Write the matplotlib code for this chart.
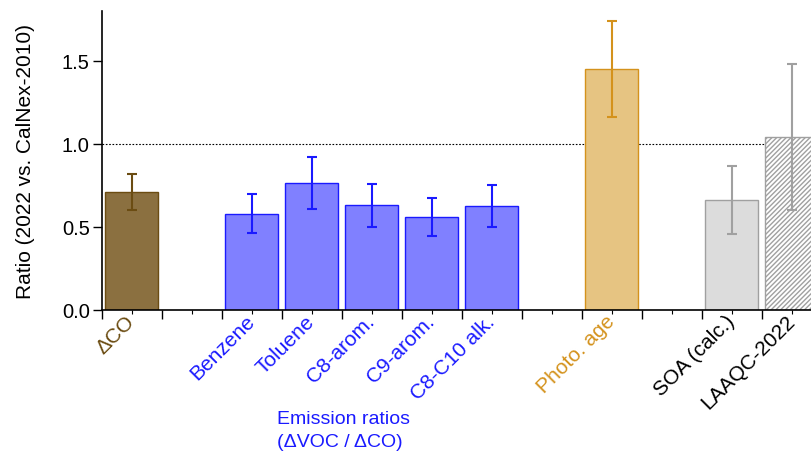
import numpy as np
import matplotlib.pyplot as plt

plt.rcParams['font.family'] = ['Liberation Sans', 'DejaVu Sans']

# categories (empty strings are gaps between groups)
labels = ['ΔCO', '', 'Benzene', 'Toluene', 'C8-arom.', 'C9-arom.', 'C8-C10 alk.',
          '', 'Photo. age', '', 'SOA (calc.)', 'LAAQC-2022']
ratios = [0.71, None, 0.58, 0.765, 0.63, 0.56, 0.625, None, 1.45, None, 0.66, 1.04]
errors = [0.11, None, 0.117, 0.155, 0.128, 0.114, 0.125, None, 0.29, None, 0.205, 0.44]

brown = '#6b4c12'
blue = '#1a1aff'
orange = '#d4921c'
gray = '#a0a0a0'
fills = ['#8b7040', None, '#8080ff', '#8080ff', '#8080ff', '#8080ff', '#8080ff',
         None, '#e6c482', None, '#dcdcdc', 'white']
edges = [brown, None, blue, blue, blue, blue, blue, None, orange, None, gray, gray]
label_colors = [brown, 'k', blue, blue, blue, blue, blue, 'k', orange, 'k', 'k', 'k']

plt.rcParams['hatch.color'] = '#858585'
plt.rcParams['hatch.linewidth'] = 1.0

fig = plt.figure(figsize=(8.12, 4.56), dpi=100)
ax = fig.add_axes([0.1252, 0.318, 0.8867, 0.6557])

ax.axhline(1.0, color='k', linestyle=(0, (1.5, 1.5)), linewidth=0.8, zorder=0)

for i, (v, e) in enumerate(zip(ratios, errors)):
    if v is None:
        continue
    hatch = '///////' if labels[i] == 'LAAQC-2022' else None
    ax.bar(i, v, width=0.88, color=fills[i], edgecolor=edges[i], linewidth=1.0,
           hatch=hatch, zorder=2)
    ax.errorbar(i, v, yerr=e, color=edges[i], capsize=3.3, elinewidth=1.5,
                capthick=1.5, zorder=3)

ax.set_xlim(-0.5, len(labels) - 0.5)
ax.set_ylim(0, 1.8)
ax.set_yticks([0.0, 0.5, 1.0, 1.5])
ax.set_yticklabels(['0.0', '0.5', '1.0', '1.5'])
ax.set_xticks(np.arange(-0.5, len(labels)))
ax.set_xticklabels([])
ax.set_xticks(np.arange(len(labels)), labels, minor=True)
ax.tick_params(axis='x', which='major', length=6.5, width=1, direction='out')
ax.tick_params(axis='x', which='minor', length=3.2, width=0.8, pad=2.5, labelsize=15)
ax.tick_params(axis='y', length=6.5, width=1, labelsize=14.5, pad=2)
for t, c in zip(ax.get_xticklabels(minor=True), label_colors):
    t.set_rotation(45)
    t.set_ha('right')
    t.set_va('center')
    t.set_rotation_mode('anchor')
    t.set_color(c)

for s in ['top', 'right']:
    ax.spines[s].set_visible(False)
ax.spines['left'].set_linewidth(1.2)
ax.spines['bottom'].set_linewidth(1.2)

ax.set_ylabel('Ratio (2022 vs. CalNex-2010)', fontsize=15)
ax.yaxis.set_label_coords(-0.092, 0.5)

fig.text(277 / 812, 1 - 431 / 456, 'Emission ratios\n(ΔVOC / ΔCO)', color=blue,
         fontsize=14, ha='left', va='center', linespacing=1.5)

fig.savefig('out.png', dpi=100)
